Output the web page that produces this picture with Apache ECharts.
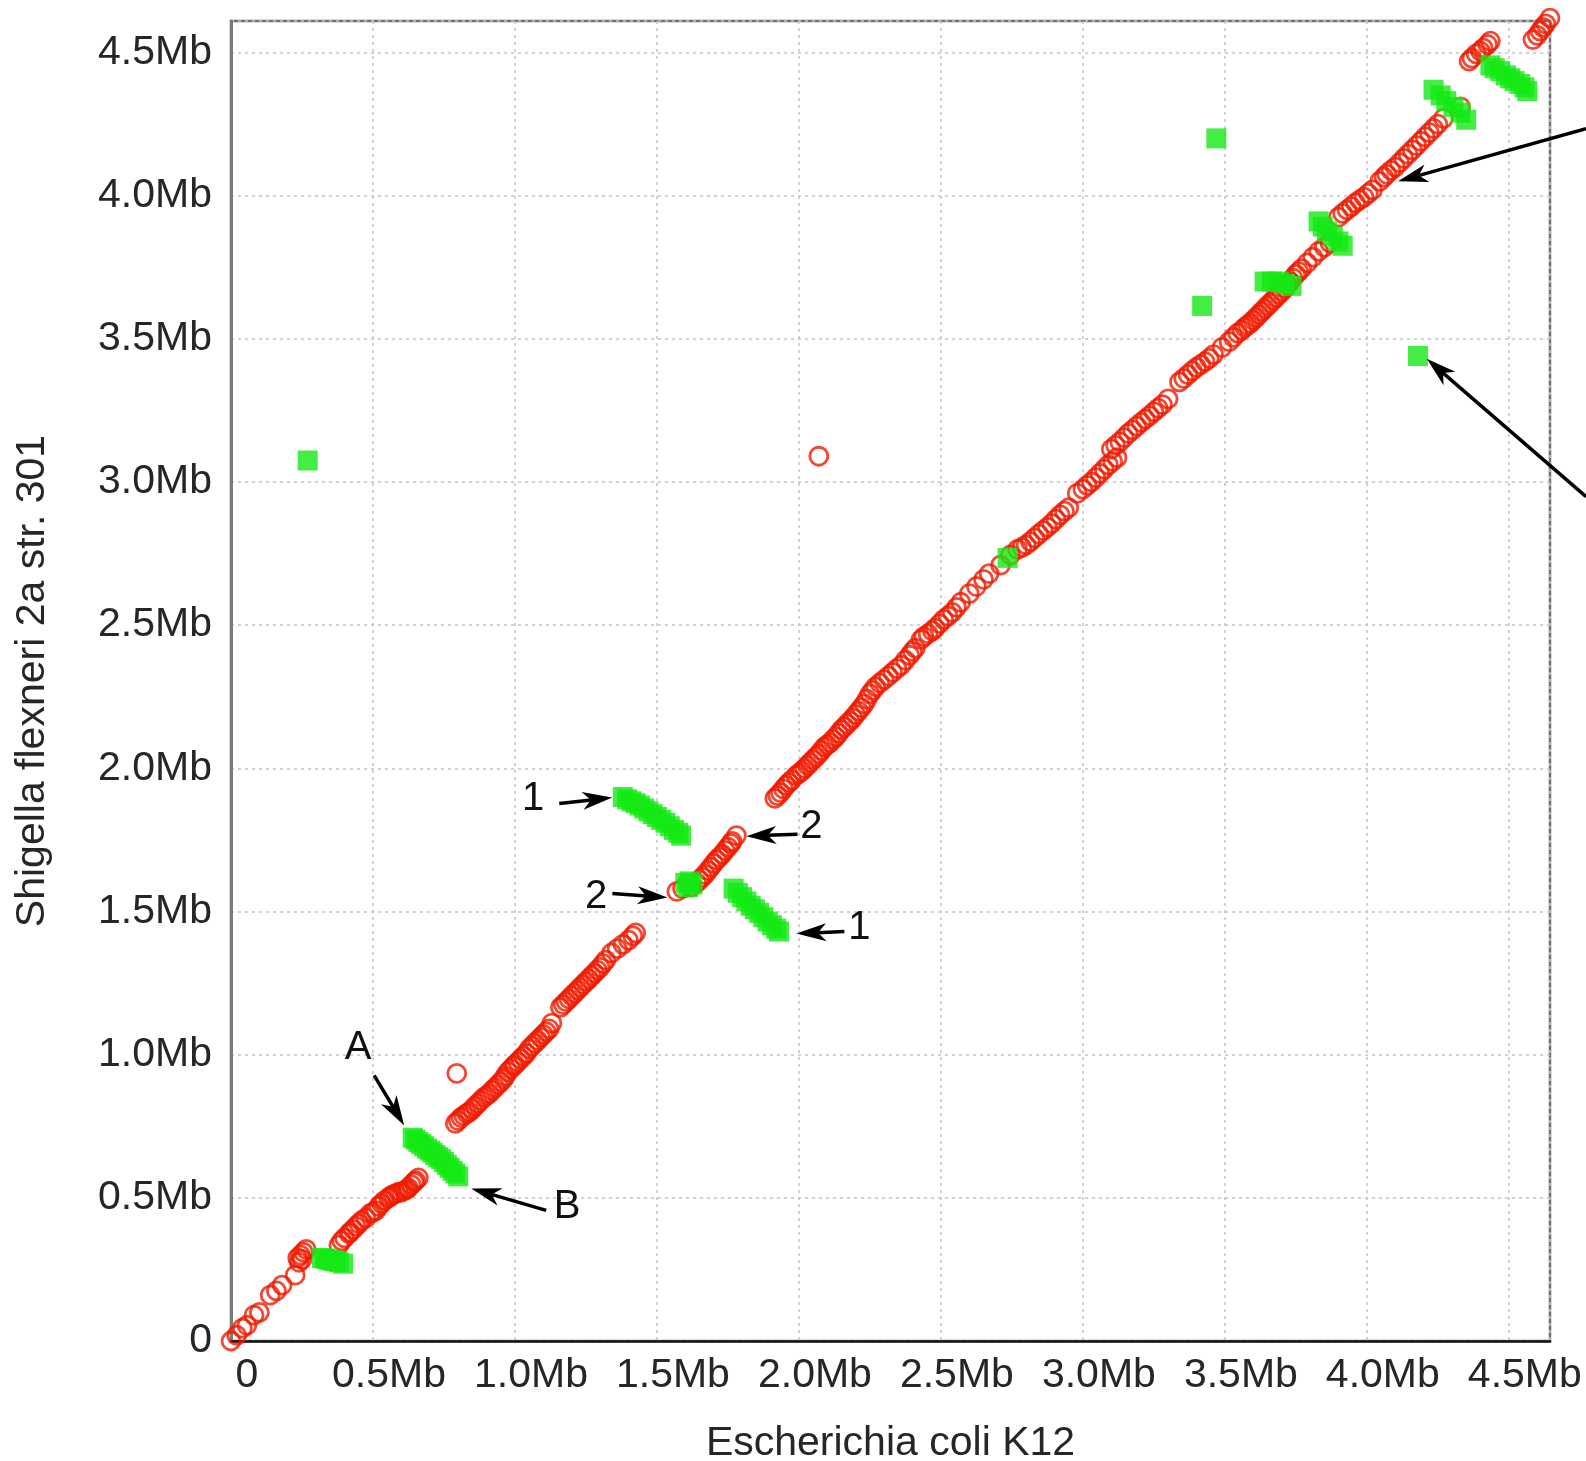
<!DOCTYPE html>
<html><head><meta charset="utf-8">
<script src="https://cdn.jsdelivr.net/npm/echarts@6/dist/echarts.min.js"></script>
<style>html,body{margin:0;padding:0;background:#fff}#c{width:1586px;height:1461px}</style>
</head><body><div id="c"></div>
<script>
// Tick labels (Mb)
const xTickLabels = ['0','0.5Mb','1.0Mb','1.5Mb','2.0Mb','2.5Mb','3.0Mb','3.5Mb','4.0Mb','4.5Mb'];
const yTickLabels = ['0','0.5Mb','1.0Mb','1.5Mb','2.0Mb','2.5Mb','3.0Mb','3.5Mb','4.0Mb','4.5Mb'];
const xAxisName = 'Escherichia coli K12';
const yAxisName = 'Shigella flexneri 2a str. 301';

// Forward matches (red circles): [E. coli position, Shigella position] in Mb
const forwardLow = [[0.00,0.00],[0.02,0.02],[0.04,0.045],[0.056,0.055],[0.081,0.09],[0.10,0.10],[0.138,0.16],[0.16,0.175],[0.18,0.195],[0.226,0.23],[0.235,0.29],[0.24,0.275],[0.245,0.30],[0.25,0.285],[0.255,0.31],[0.265,0.32],
  [0.38,0.335],[0.39,0.35],[0.40,0.36],[0.415,0.375],[0.42,0.38],[0.43,0.39],[0.44,0.40],[0.45,0.41],[0.46,0.42],[0.475,0.43],[0.49,0.445],[0.50,0.45],[0.51,0.455],[0.52,0.47],[0.53,0.48],[0.54,0.49],[0.555,0.50],[0.56,0.505],[0.57,0.51],[0.58,0.515],[0.59,0.52],[0.60,0.52],[0.61,0.525],[0.62,0.53],[0.625,0.535],[0.635,0.545],[0.645,0.555],[0.65,0.56],[0.66,0.57]];
const forwardMid = [[0.79,0.76],[0.80,0.77],[0.81,0.78],[0.82,0.787],[0.83,0.795],[0.84,0.80],[0.85,0.81],[0.86,0.82],[0.87,0.83],[0.88,0.84],[0.89,0.85],[0.90,0.857],[0.91,0.865],[0.92,0.875],[0.93,0.885],[0.94,0.895],[0.95,0.905],[0.96,0.915],[0.965,0.925],[0.975,0.94],[0.985,0.95],[0.995,0.96],[1.00,0.965],[1.01,0.975],[1.02,0.985],[1.03,0.995],[1.04,1.005],[1.05,1.02],[1.06,1.03],[1.07,1.04],[1.08,1.05],[1.09,1.06],[1.10,1.07],[1.11,1.08],[1.12,1.09],[1.13,1.11],
  [1.16,1.165],[1.17,1.175],[1.18,1.185],[1.19,1.195],[1.20,1.205],[1.21,1.215],[1.22,1.225],[1.23,1.235],[1.24,1.245],[1.25,1.255],[1.26,1.265],[1.27,1.275],[1.28,1.285],[1.29,1.295],[1.30,1.305],[1.31,1.318],[1.32,1.33],[1.34,1.355],[1.36,1.37],[1.38,1.385],[1.40,1.40],[1.415,1.415],[1.425,1.425],
  [1.57,1.57],[1.59,1.58],[1.62,1.585],[1.64,1.60],[1.65,1.61],[1.66,1.62],[1.67,1.63],[1.68,1.643],[1.69,1.655],[1.70,1.668],[1.71,1.68],[1.72,1.69],[1.73,1.70],[1.74,1.713],[1.75,1.725],[1.76,1.737],[1.765,1.745],[1.78,1.765]];
const forwardHigh = [[1.915,1.895],[1.925,1.905],[1.935,1.915],[1.945,1.928],[1.955,1.94],[1.965,1.95],[1.975,1.96],[1.99,1.975],[2.00,1.982],[2.01,1.99],[2.02,2.0],[2.03,2.01],[2.04,2.02],[2.05,2.03],[2.06,2.04],[2.07,2.05],[2.08,2.062],[2.09,2.075],[2.10,2.082],[2.11,2.09],[2.12,2.10],[2.13,2.11],[2.14,2.122],[2.15,2.135],[2.16,2.145],[2.17,2.155],[2.18,2.165],[2.19,2.175],[2.20,2.188],[2.21,2.20],[2.22,2.212],[2.23,2.225],[2.24,2.242],[2.25,2.26],[2.26,2.272],[2.27,2.285],[2.285,2.298],[2.30,2.31],[2.315,2.322],[2.33,2.335],[2.345,2.348],[2.36,2.36],[2.375,2.378],[2.39,2.395],[2.40,2.408],[2.41,2.42],
  [2.43,2.45],[2.44,2.46],[2.455,2.47],[2.47,2.48],[2.48,2.49],[2.495,2.505],[2.51,2.52],[2.525,2.532],[2.54,2.545],[2.555,2.562],[2.57,2.58],
  [2.60,2.61],[2.625,2.635],[2.65,2.66],[2.67,2.68],[2.71,2.71],[2.745,2.745],
  [2.77,2.765],[2.785,2.772],[2.80,2.78],[2.815,2.792],[2.83,2.805],[2.845,2.818],[2.86,2.83],[2.875,2.842],[2.89,2.855],[2.905,2.87],[2.92,2.885],[2.935,2.898],[2.95,2.91],
  [2.98,2.96],[3.00,2.975],[3.015,2.988],[3.03,3.00],[3.045,3.015],[3.06,3.03],[3.075,3.045],[3.09,3.06],[3.105,3.072],[3.12,3.085],
  [3.10,3.115],[3.115,3.128],[3.13,3.14],[3.145,3.155],[3.16,3.17],[3.175,3.182],[3.19,3.195],[3.205,3.208],[3.22,3.22],[3.235,3.232],[3.25,3.245],[3.265,3.258],[3.28,3.27],[3.30,3.29],
  [3.34,3.35],[3.355,3.362],[3.37,3.375],[3.385,3.388],[3.40,3.40],[3.415,3.41],[3.43,3.42],[3.445,3.432],[3.46,3.445],[3.49,3.47],[3.515,3.49],[3.53,3.505],[3.545,3.52],[3.56,3.53],[3.57,3.54],[3.58,3.548],[3.59,3.555],[3.60,3.565],[3.61,3.575],[3.62,3.585],[3.63,3.595],[3.64,3.605],[3.65,3.615],[3.66,3.625],[3.67,3.635],[3.68,3.645],[3.69,3.655],[3.70,3.665],[3.71,3.675],[3.72,3.688],[3.73,3.70],[3.74,3.712],[3.75,3.725],[3.76,3.735],[3.77,3.745],[3.79,3.765],[3.81,3.785],[3.83,3.805],[3.85,3.82],[3.87,3.835],
  [3.90,3.925],[3.915,3.938],[3.93,3.95],[3.945,3.962],[3.96,3.975],[3.975,3.985],[3.99,3.995],[4.005,4.008],[4.02,4.02],[4.045,4.05],[4.06,4.065],[4.07,4.075],[4.085,4.088],[4.10,4.10],[4.115,4.115],[4.13,4.13],[4.145,4.145],[4.16,4.16],[4.175,4.175],[4.19,4.19],[4.205,4.205],[4.22,4.22],[4.235,4.235],[4.25,4.25],[4.27,4.27],[4.33,4.31],
  [4.36,4.47],[4.37,4.48],[4.385,4.495],[4.40,4.505],[4.41,4.515],[4.425,4.528],[4.435,4.54],
  [4.585,4.545],[4.60,4.56],[4.61,4.575],[4.62,4.588],[4.63,4.60],[4.645,4.62]];
const forwardStray = [[0.795,0.935],[2.07,3.09]];

// Reverse (inverted) matches (green squares)
const reverseHits = [[0.27,3.075],
  [0.32,0.29],[0.33,0.288],[0.34,0.285],[0.35,0.282],[0.36,0.28],[0.37,0.278],[0.38,0.275],[0.395,0.27],
  [0.64,0.71],[0.65,0.703],[0.66,0.695],[0.67,0.688],[0.68,0.68],[0.69,0.672],[0.70,0.665],[0.71,0.658],[0.72,0.65],[0.73,0.642],[0.74,0.635],[0.75,0.625],[0.76,0.615],[0.77,0.605],[0.78,0.595],[0.79,0.585],[0.80,0.575],
  [1.38,1.90],[1.395,1.892],[1.41,1.885],[1.425,1.878],[1.44,1.87],[1.455,1.86],[1.47,1.85],[1.485,1.84],[1.50,1.83],[1.515,1.82],[1.53,1.81],[1.545,1.798],[1.56,1.785],[1.575,1.775],[1.585,1.765],
  [1.60,1.60],[1.615,1.605],[1.625,1.595],[1.61,1.585],
  [1.77,1.58],[1.785,1.565],[1.80,1.55],[1.815,1.535],[1.83,1.52],[1.845,1.508],[1.86,1.495],[1.875,1.48],[1.89,1.465],[1.905,1.452],[1.92,1.44],[1.93,1.43],
  [2.735,2.735],
  [3.42,3.615],[3.47,4.20],
  [3.64,3.70],[3.665,3.70],[3.69,3.70],[3.71,3.692],[3.735,3.685],
  [3.83,3.91],[3.845,3.892],[3.86,3.875],[3.88,3.858],[3.90,3.84],[3.915,3.825],
  [4.18,3.44],
  [4.235,4.37],[4.26,4.35],[4.28,4.33],[4.305,4.31],[4.33,4.29],[4.35,4.265],
  [4.435,4.455],[4.45,4.445],[4.47,4.435],[4.49,4.42],[4.505,4.41],[4.52,4.40],[4.54,4.39],[4.555,4.378],[4.565,4.365]];

// Annotations (data units): arrows from -> to, and text labels
const arrowFrom = [[0.504,0.928],[1.110,0.456],[1.156,1.877],[1.995,1.770],[1.343,1.563],[2.160,1.430],[4.772,4.234],[4.772,2.949]];
const arrowTo   = [[0.610,0.753],[0.846,0.533],[1.343,1.898],[1.815,1.763],[1.537,1.549],[1.991,1.423],[4.110,4.050],[4.211,3.430]];
const noteText = ['A','B','1','2','2','1'];
const notePos  = [[0.448,1.025],[1.184,0.467],[1.064,1.894],[2.044,1.794],[1.286,1.549],[2.213,1.444]];

const FONT = "'Liberation Sans', Arial, sans-serif";
const RED = '#f01a00';
const GREEN = '#14e814';
const TXT = '#262626';

const chart = echarts.init(document.getElementById('c'), null, {renderer:'canvas'});
const tickFmt = labels => v => { const i = Math.round(v / 0.5); return (Math.abs(v - i*0.5) < 1e-6 && labels[i] !== undefined) ? labels[i] : ''; };

const redStyle = {color:'rgba(0,0,0,0)', borderColor:RED, borderWidth:2.8};
const option = {
  animation:false,
  backgroundColor:'#fff',
  grid:{left:231, top:21, right:36, bottom:120, show:true, borderColor:'#707070', borderWidth:2.5, backgroundColor:'#fff', containLabel:false, outerBoundsMode:'none'},
  xAxis:{type:'value', min:0, max:4.645, interval:0.5,
    name:xAxisName, nameLocation:'middle', nameGap:82,
    nameTextStyle:{fontSize:41, fontFamily:FONT, color:TXT},
    axisLine:{show:true, lineStyle:{color:'#111', width:2.5}},
    axisTick:{show:false},
    axisLabel:{formatter:tickFmt(xTickLabels), showMaxLabel:false, fontSize:41, fontFamily:FONT, color:TXT, margin:14, padding:[0,0,0,32]},
    splitLine:{show:true, lineStyle:{color:'#c4c4c4', width:1.5, type:[3,4]}}},
  yAxis:{type:'value', min:0, max:4.61, interval:0.5,
    name:yAxisName, nameLocation:'middle', nameGap:178,
    nameTextStyle:{fontSize:41, fontFamily:FONT, color:TXT},
    axisLine:{show:true, lineStyle:{color:'#7a7a7a', width:3}},
    axisTick:{show:false},
    axisLabel:{formatter:tickFmt(yTickLabels), showMaxLabel:false, fontSize:41, fontFamily:FONT, color:TXT, margin:19},
    splitLine:{show:true, lineStyle:{color:'#c4c4c4', width:1.5, type:[3,4]}}},
  series:[
    {type:'scatter', name:'forward', data:forwardLow, symbol:'circle', symbolSize:18, itemStyle:redStyle, clip:false},
    {type:'scatter', name:'forward', data:forwardMid, symbol:'circle', symbolSize:18, itemStyle:redStyle, clip:false},
    {type:'scatter', name:'forward', data:forwardHigh, symbol:'circle', symbolSize:18, itemStyle:redStyle, clip:false},
    {type:'scatter', name:'forward', data:forwardStray, symbol:'circle', symbolSize:18, itemStyle:redStyle, clip:false},
    {type:'scatter', name:'reverse', data:reverseHits, symbol:'rect', symbolSize:20, itemStyle:{color:GREEN}, clip:false}
  ]
};
chart.setOption(option);

const px = p => chart.convertToPixel({gridIndex:0}, p);
const elements = [];
arrowFrom.forEach((f, i) => {
  const s = px(f), t = px(arrowTo[i]);
  const dx = t[0]-s[0], dy = t[1]-s[1], len = Math.hypot(dx, dy);
  const ux = dx/len, uy = dy/len, nx = -uy, ny = ux;
  const L = 30, W = 9;
  const bx = t[0]-L*ux, by = t[1]-L*uy;
  elements.push({type:'line', z:100, shape:{x1:s[0], y1:s[1], x2:t[0]-0.7*L*ux, y2:t[1]-0.7*L*uy}, style:{stroke:'#000', lineWidth:3.5}});
  elements.push({type:'polygon', z:100, shape:{points:[[t[0],t[1]],[bx+W*nx,by+W*ny],[t[0]-0.72*L*ux,t[1]-0.72*L*uy],[bx-W*nx,by-W*ny]]}, style:{fill:'#000'}});
});
noteText.forEach((txt, i) => {
  const p = px(notePos[i]);
  elements.push({type:'text', z:100, x:p[0], y:p[1], style:{text:txt, fontSize:40, fontFamily:FONT, fill:'#111', align:'center', verticalAlign:'middle'}});
});
chart.setOption({graphic:{elements}});
</script></body></html>
